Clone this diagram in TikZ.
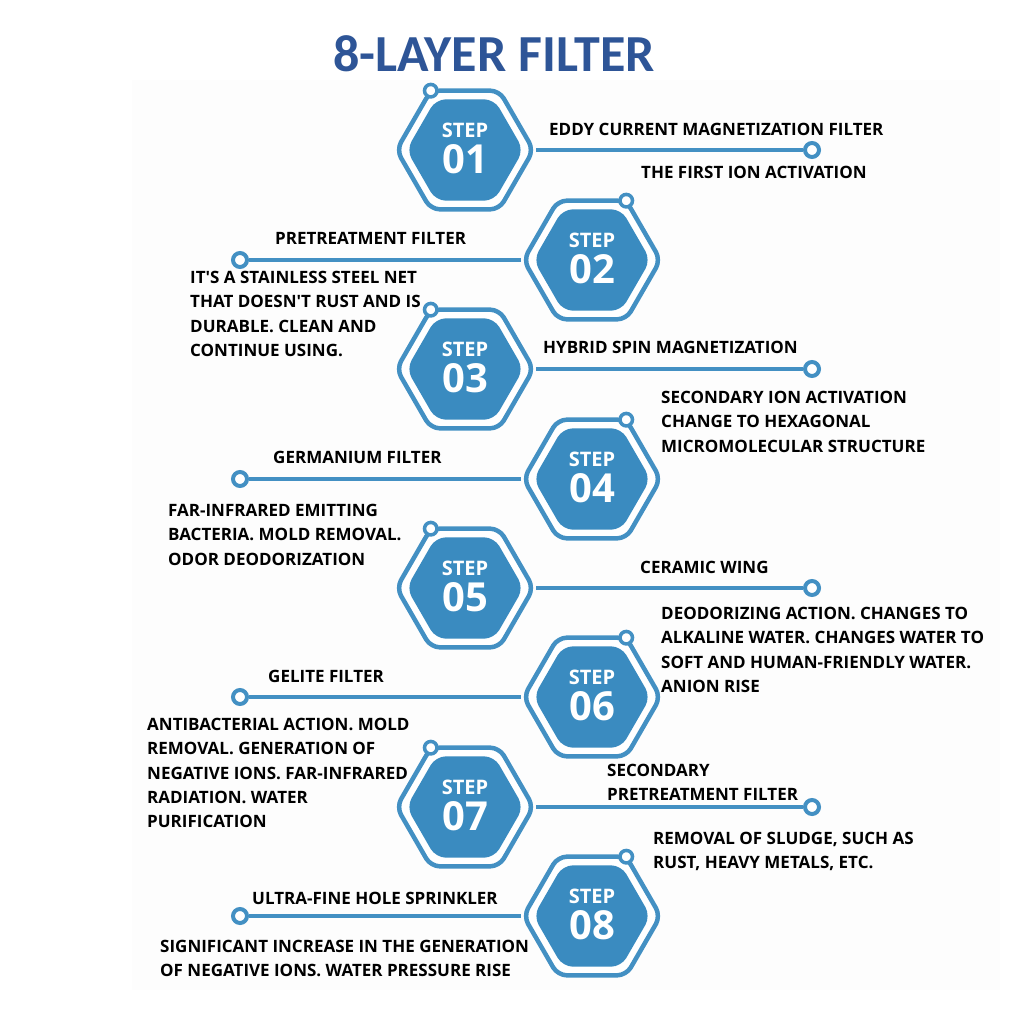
\documentclass[tikz,border=0pt]{standalone}
\usepackage{fontspec}
\setmainfont{Open Sans}
\newfontfamily\titlefont{Carlito}
\usetikzlibrary{shapes.geometric,calc}
\definecolor{hexblue}{HTML}{4390C3}
\definecolor{hexfill}{HTML}{3A8BC0}
\definecolor{titleblue}{HTML}{2E5597}
\definecolor{paper}{HTML}{FDFDFD}
\newcommand{\apos}{\textquotesingle}
\begin{document}
\begin{tikzpicture}[x=1pt,y=1pt,
 hexouter/.style={regular polygon,regular polygon sides=6,minimum size=137pt,inner sep=0pt,draw=hexblue,line width=4.5pt,rounded corners=9pt,fill=white},
 hexinner/.style={regular polygon,regular polygon sides=6,minimum size=117pt,inner sep=0pt,fill=hexfill,rounded corners=10pt},
 endring/.style={circle,draw=hexblue,line width=4pt,fill=white,minimum size=14pt,inner sep=0pt},
 vring/.style={circle,draw=hexblue,line width=3.5pt,fill=white,minimum size=12.5pt,inner sep=0pt},
 link/.style={draw=hexblue,line width=4pt},
 steptxt/.style={text=white,font=\bfseries\fontsize{20}{20}\selectfont,inner sep=0pt},
 numtxt/.style={text=white,font=\bfseries\fontsize{40}{40}\selectfont,inner sep=0pt},
 lbl/.style={anchor=north west,inner sep=0pt,align=left,font=\bfseries\fontsize{17}{24.3}\selectfont},
]
\useasboundingbox (0,0) rectangle (1024,-1024);
\fill[white] (0,0) rectangle (1024,-1024);
\fill[paper] (132,-80) rectangle (1000,-990);
\node[text=titleblue,font=\titlefont\bfseries\fontsize{52}{52}\selectfont,inner sep=0pt] (title) at (494,-54) {8-LAYER FILTER};
\foreach \i/\x/\y/\ex/\va/\side in {1/465/150/812/120/east,2/592/260/240/60/west,3/465/369/812/120/east,4/592/479/240/60/west,5/465/588/812/120/east,6/592/697/240/60/west,7/465/807/812/120/east,8/592/916/240/60/west}{
  \node[hexouter] (h\i) at (\x,-\y) {};
  \node[hexinner] (hi\i) at (h\i.center) {};
  \node[steptxt] (s\i) at ($(h\i.center)+(0,20)$) {STEP};
  \node[numtxt] (n\i) at ($(h\i.center)+(0,-9)$) {0\i};
  \node[endring] (e\i) at (\ex,-\y) {};
  \draw[link] (h\i.\side) -- (e\i);
  \node[vring] (v\i) at ($(h\i.center)+(\va:68.5pt)$) {};
}
\node[lbl] (l1) at (549,-123) {EDDY CURRENT MAGNETIZATION FILTER};
\node[lbl] (l2) at (641,-166) {THE FIRST ION ACTIVATION};
\node[lbl] (l3) at (275,-232) {PRETREATMENT FILTER};
\node[lbl] (l4) at (190,-271) {IT\apos S A STAINLESS STEEL NET\\THAT DOESN\apos T RUST AND IS\\DURABLE. CLEAN AND\\CONTINUE USING.};
\node[lbl] (l5) at (543,-341) {HYBRID SPIN MAGNETIZATION};
\node[lbl] (l6) at (661,-391) {SECONDARY ION ACTIVATION\\CHANGE TO HEXAGONAL\\MICROMOLECULAR STRUCTURE};
\node[lbl] (l7) at (273,-451) {GERMANIUM FILTER};
\node[lbl] (l8) at (168,-504) {FAR-INFRARED EMITTING\\BACTERIA. MOLD REMOVAL.\\ODOR DEODORIZATION};
\node[lbl] (l9) at (640,-561) {CERAMIC WING};
\node[lbl] (l10) at (661,-607) {DEODORIZING ACTION. CHANGES TO\\ALKALINE WATER. CHANGES WATER TO\\SOFT AND HUMAN-FRIENDLY WATER.\\ANION RISE};
\node[lbl] (l11) at (268,-670) {GELITE FILTER};
\node[lbl] (l12) at (147,-718) {ANTIBACTERIAL ACTION. MOLD\\REMOVAL. GENERATION OF\\NEGATIVE IONS. FAR-INFRARED\\RADIATION. WATER\\PURIFICATION};
\node[lbl] (l13) at (607,-764) {SECONDARY\\PRETREATMENT FILTER};
\node[lbl] (l14) at (653,-832) {REMOVAL OF SLUDGE, SUCH AS\\RUST, HEAVY METALS, ETC.};
\node[lbl] (l15) at (252,-892) {ULTRA-FINE HOLE SPRINKLER};
\node[lbl] (l16) at (160,-940) {SIGNIFICANT INCREASE IN THE GENERATION\\OF NEGATIVE IONS. WATER PRESSURE RISE};
\end{tikzpicture}
\end{document}
